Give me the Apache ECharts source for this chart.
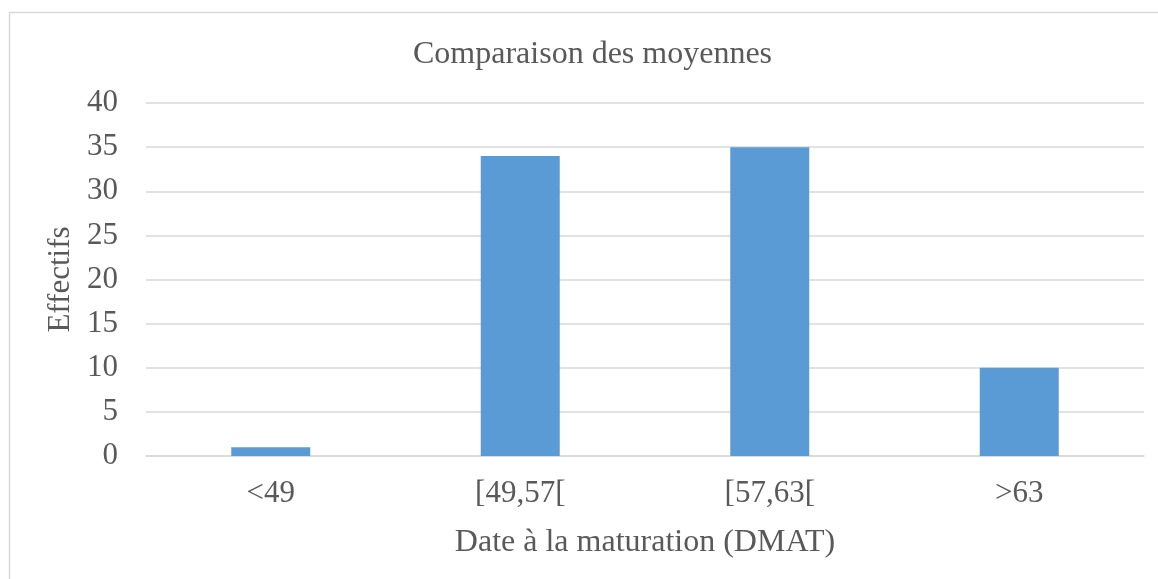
<!DOCTYPE html>
<html>
<head>
<meta charset="utf-8">
<script src="https://cdn.jsdelivr.net/npm/echarts@6/dist/echarts.min.js"></script>
<style>html,body{margin:0;padding:0;background:#fff;}#c{width:1158px;height:579px;}</style>
</head>
<body>
<div id="c"></div>
<script>
const categories = ['<49', '[49,57[', '[57,63[', '>63'];
const effectifs = [1, 34, 35, 10];
const titleText = 'Comparaison des moyennes';
const xName = 'Date à la maturation (DMAT)';
const yName = 'Effectifs';

const font = 'Liberation Serif';
const txt = '#595959';
const chart = echarts.init(document.getElementById('c'), null, {renderer: 'canvas'});
chart.setOption({
  animation: false,
  backgroundColor: '#fff',
  graphic: [{
    type: 'rect', shape: {x: 9.5, y: 12.5, width: 1200, height: 600},
    style: {fill: 'none', stroke: '#d9d9d9', lineWidth: 1.5}, silent: true
  }],
  title: {
    text: titleText, left: 408, top: 34,
    textStyle: {fontFamily: font, fontSize: 32, fontWeight: 'normal', color: txt}
  },
  grid: {left: 146, right: 14, top: 103, bottom: 123, containLabel: false},
  xAxis: {
    type: 'category', data: categories,
    name: xName, nameLocation: 'middle', nameGap: 71,
    nameTextStyle: {fontFamily: font, fontSize: 32, color: txt},
    axisLine: {lineStyle: {color: '#d9d9d9', width: 1.5}},
    axisTick: {show: false},
    axisLabel: {fontFamily: font, fontSize: 31, color: txt, margin: 22}
  },
  yAxis: {
    type: 'value', min: 0, max: 40, interval: 5,
    name: yName, nameLocation: 'middle', nameGap: 70, nameRotate: 90,
    nameTextStyle: {fontFamily: font, fontSize: 31, color: txt},
    axisLine: {show: false}, axisTick: {show: false},
    axisLabel: {fontFamily: font, fontSize: 31, color: txt, margin: 28},
    splitLine: {lineStyle: {color: '#d9d9d9', width: 1.5}}
  },
  series: [{
    type: 'bar', data: effectifs, barWidth: 79,
    itemStyle: {color: '#5b9bd5'}
  }]
});
</script>
</body>
</html>
